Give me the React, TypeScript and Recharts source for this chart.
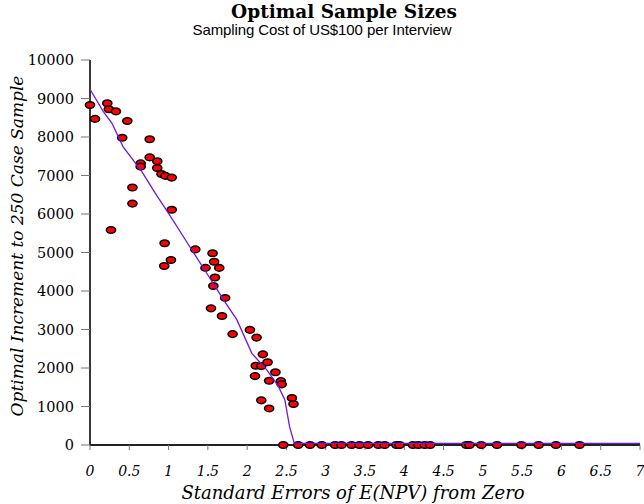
import React from "react";
import {
  ComposedChart,
  Scatter,
  XAxis,
  YAxis,
} from "recharts";

const pointX = [
  0, 0.064, 0.22, 0.24, 0.33, 0.475, 0.41, 0.76, 0.76, 0.856, 0.645, 0.645, 0.856, 0.91, 0.96, 1.04,
  0.54, 0.54, 1.04, 0.267, 0.95, 1.34, 0.945, 1.03, 1.56, 1.58, 1.47, 1.645, 1.59, 1.57, 1.72,
  1.54, 1.68, 1.815, 2.035, 2.12, 2.2, 2.11, 2.18, 2.26, 2.1, 2.36, 2.28, 2.43, 2.44, 2.18, 2.28,
  2.57, 2.59, 2.46,
  2.65, 2.8, 2.95, 3.12, 3.2, 3.33, 3.43, 3.54, 3.67, 3.75, 3.9, 3.94, 4.11, 4.18, 4.26, 4.33,
  4.79, 4.83, 4.98, 5.18, 5.49, 5.71, 5.93, 6.23,
];
const pointY = [
  8830, 8470, 8875, 8720, 8665, 8415, 7980, 7940, 7470, 7370, 7315, 7230, 7195, 7040, 6990, 6945,
  6690, 6270, 6110, 5585, 5240, 5080, 4650, 4805, 4980, 4760, 4600, 4600, 4350, 4130, 3820,
  3550, 3350, 2880, 2990, 2790, 2355, 2060, 2050, 2150, 1790, 1890, 1670, 1660, 1575, 1160, 950,
  1220, 1065, 0,
  0, 0, 0, 0, 0, 0, 0, 0, 0, 0, 0, 0, 0, 0, 0, 0,
  0, 0, 0, 0, 0, 0, 0, 0,
];

const curveX = [0, 0.17, 0.28, 0.42, 0.66, 0.83, 1.0, 1.27, 1.5, 1.7, 1.87, 2.06, 2.25, 2.4, 2.48, 2.54, 2.6, 7];
const curveY = [9240, 8660, 8355, 7750, 7100, 6540, 6015, 5150, 4415, 3770, 3250, 2380, 1950, 1515, 1170, 475, 40, 40];

const xTicks = [0, 0.5, 1, 1.5, 2, 2.5, 3, 3.5, 4, 4.5, 5, 5.5, 6, 6.5, 7];
const yTicks = [0, 1000, 2000, 3000, 4000, 5000, 6000, 7000, 8000, 9000, 10000];

const title = "Optimal Sample Sizes";
const subtitle = "Sampling Cost of US$100 per Interview";
const xLabel = "Standard Errors of E(NPV) from Zero";
const yLabel = "Optimal Increment to 250 Case Sample";

const points = pointX.map((x, i) => ({ x, y: pointY[i] }));
const curve = curveX.map((x, i) => ({ x, y: curveY[i] }));

const Dot = (props: any) => {
  const { cx, cy } = props;
  if (cx == null || cy == null) return null;
  return <ellipse cx={cx} cy={cy} rx={4.6} ry={3.3} fill="#ff0000" stroke="#000" strokeWidth={1.5} />;
};

const NoDot = () => null;

const serif = "'DejaVu Serif', serif";

export default function App() {
  return (
    <div style={{ position: "absolute", left: 0, top: 0, width: 644, height: 504, background: "#fff" }}>
      <ComposedChart
        width={644}
        height={504}
        margin={{ top: 60, right: 4, bottom: 0, left: 0 }}
        style={{ position: "absolute", left: 0, top: 0 }}
      >
        <XAxis
          dataKey="x"
          type="number"
          domain={[0, 7]}
          ticks={xTicks}
          interval={0}
          height={59}
          stroke="#222"
          strokeWidth={1.8}
          tickSize={5}
          tickMargin={16}
          tickLine={{ stroke: "#777", strokeWidth: 1 }}
          tick={{ fill: "#000", fontFamily: serif, fontStyle: "italic", fontSize: 14 }}
        />
        <XAxis
          xAxisId="top"
          orientation="top"
          type="number"
          domain={[0, 7]}
          height={0}
          tick={false}
          tickLine={false}
          stroke="#444"
          strokeWidth={1.5}
        />
        <YAxis
          dataKey="y"
          type="number"
          domain={[0, 10000]}
          ticks={yTicks}
          interval={0}
          width={90}
          stroke="#222"
          strokeWidth={1.8}
          tickSize={9}
          tickMargin={7}
          tickLine={{ stroke: "#777", strokeWidth: 1 }}
          tick={{ fill: "#000", fontFamily: serif, fontSize: 14.5 }}
        />
        <YAxis
          yAxisId="right"
          orientation="right"
          type="number"
          domain={[0, 10000]}
          width={0}
          tick={false}
          tickLine={false}
          stroke="#444"
          strokeWidth={1.5}
        />
        <Scatter data={points} dataKey="y" shape={Dot} isAnimationActive={false} />
        <Scatter
          data={curve}
          dataKey="y"
          line={{ stroke: "#7414e6", strokeWidth: 1.3 }}
          lineType="joint"
          shape={NoDot}
          isAnimationActive={false}
        />
      </ComposedChart>
      <div
        style={{
          position: "absolute",
          left: 22,
          width: 644,
          top: 2,
          textAlign: "center",
          fontFamily: serif,
          fontWeight: "bold",
          fontSize: 18.5,
          lineHeight: "20px",
          color: "#000",
        }}
      >
        {title}
      </div>
      <div
        style={{
          position: "absolute",
          left: 0,
          width: 644,
          top: 21,
          textAlign: "center",
          fontFamily: "'Liberation Sans', Arial, sans-serif",
          fontSize: 15,
          lineHeight: "17px",
          letterSpacing: -0.1,
          color: "#000",
        }}
      >
        {subtitle}
      </div>
      <div
        style={{
          position: "absolute",
          left: 153,
          width: 400,
          top: 483,
          textAlign: "center",
          fontFamily: serif,
          fontStyle: "italic",
          fontSize: 18,
          lineHeight: "20px",
          whiteSpace: "nowrap",
          color: "#000",
        }}
      >
        {xLabel}
      </div>
      <div
        style={{
          position: "absolute",
          left: 17 - 200,
          width: 400,
          top: 246 - 10,
          height: 20,
          textAlign: "center",
          fontFamily: serif,
          fontStyle: "italic",
          fontSize: 17,
          lineHeight: "20px",
          whiteSpace: "nowrap",
          transform: "rotate(-90deg)",
          transformOrigin: "50% 50%",
          color: "#000",
        }}
      >
        {yLabel}
      </div>
    </div>
  );
}
